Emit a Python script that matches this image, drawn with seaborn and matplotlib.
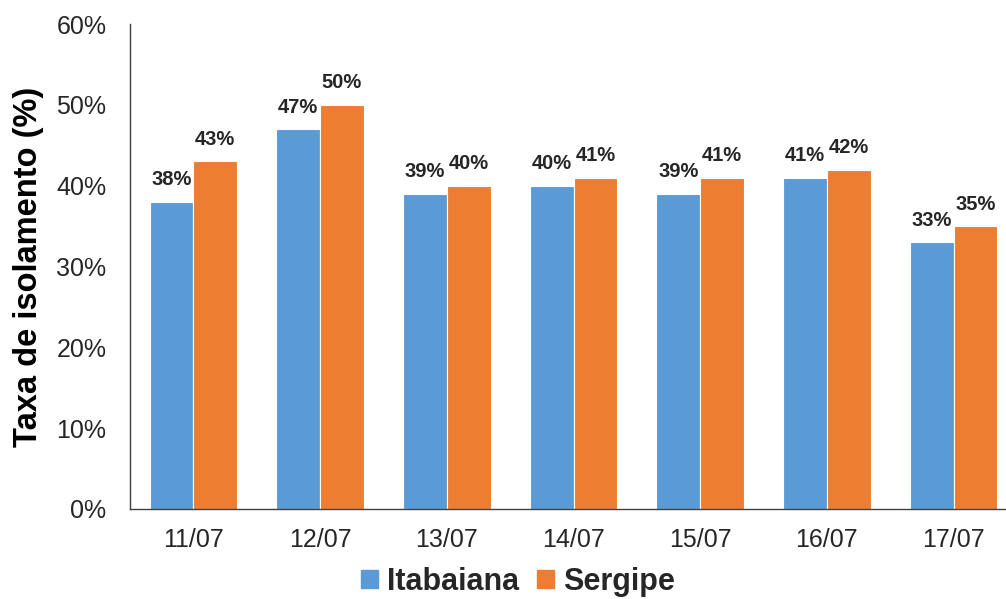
import pandas as pd
import matplotlib.pyplot as plt
import seaborn as sns

datas = ["11/07", "12/07", "13/07", "14/07", "15/07", "16/07", "17/07"]
itabaiana = [38, 47, 39, 40, 39, 41, 33]
sergipe = [43, 50, 40, 41, 41, 42, 35]
series = ["Itabaiana", "Sergipe"]
cores = ["#5B9BD5", "#ED7D31"]

sns.set_theme(style="white")
plt.rcParams['font.family'] = ['Liberation Sans', 'DejaVu Sans']

df = pd.DataFrame({
    "data": datas * 2,
    "taxa": itabaiana + sergipe,
    "local": [series[0]] * len(datas) + [series[1]] * len(datas),
})

fig = plt.figure(figsize=(10.06, 5.99), dpi=100)
ax = fig.add_axes([130 / 1006, 1 - 509 / 599, 887 / 1006, 485 / 599])

sns.barplot(data=df, x="data", y="taxa", hue="local", palette=cores, saturation=1,
            width=0.69, edgecolor="white", linewidth=0.8, ax=ax, legend=False)

# rótulos em cima das barras
for cont in ax.containers:
    ax.bar_label(cont, labels=[f"{v:.0f}%" for v in cont.datavalues], padding=9,
                 fontsize=14.5, fontweight="bold",
                 family=['Liberation Sans Narrow', 'Liberation Sans'], color="#262626")

ax.set_ylim(0, 60)
ax.set_xlim(-0.5, len(datas) - 0.5)
ax.set_yticks(range(0, 61, 10))
ax.set_yticklabels([f"{v}%" for v in range(0, 61, 10)], fontsize=18, color="#262626")
ax.tick_params(axis="x", labelsize=18, colors="#262626", pad=14, length=0)
ax.tick_params(axis="y", pad=17, length=0)
ax.set_xlabel("")
ax.set_ylabel("Taxa de isolamento (%)", fontsize=23.5, fontweight="bold", color="black", labelpad=9)

for s in ["top", "right"]:
    ax.spines[s].set_visible(False)
for s in ["left", "bottom"]:
    ax.spines[s].set_color("#404040")
    ax.spines[s].set_linewidth(1.0)

handles = [plt.Rectangle((0, 0), 1, 1, color=c) for c in cores]
fig.legend(handles, series, loc="center", bbox_to_anchor=(518 / 1006, 1 - 582 / 599),
           ncol=2, frameon=False, prop={"size": 22, "weight": "bold"},
           handlelength=0.55, handleheight=0.55, handletextpad=0.3, columnspacing=0.6)

plt.savefig("out.png", dpi=100)
